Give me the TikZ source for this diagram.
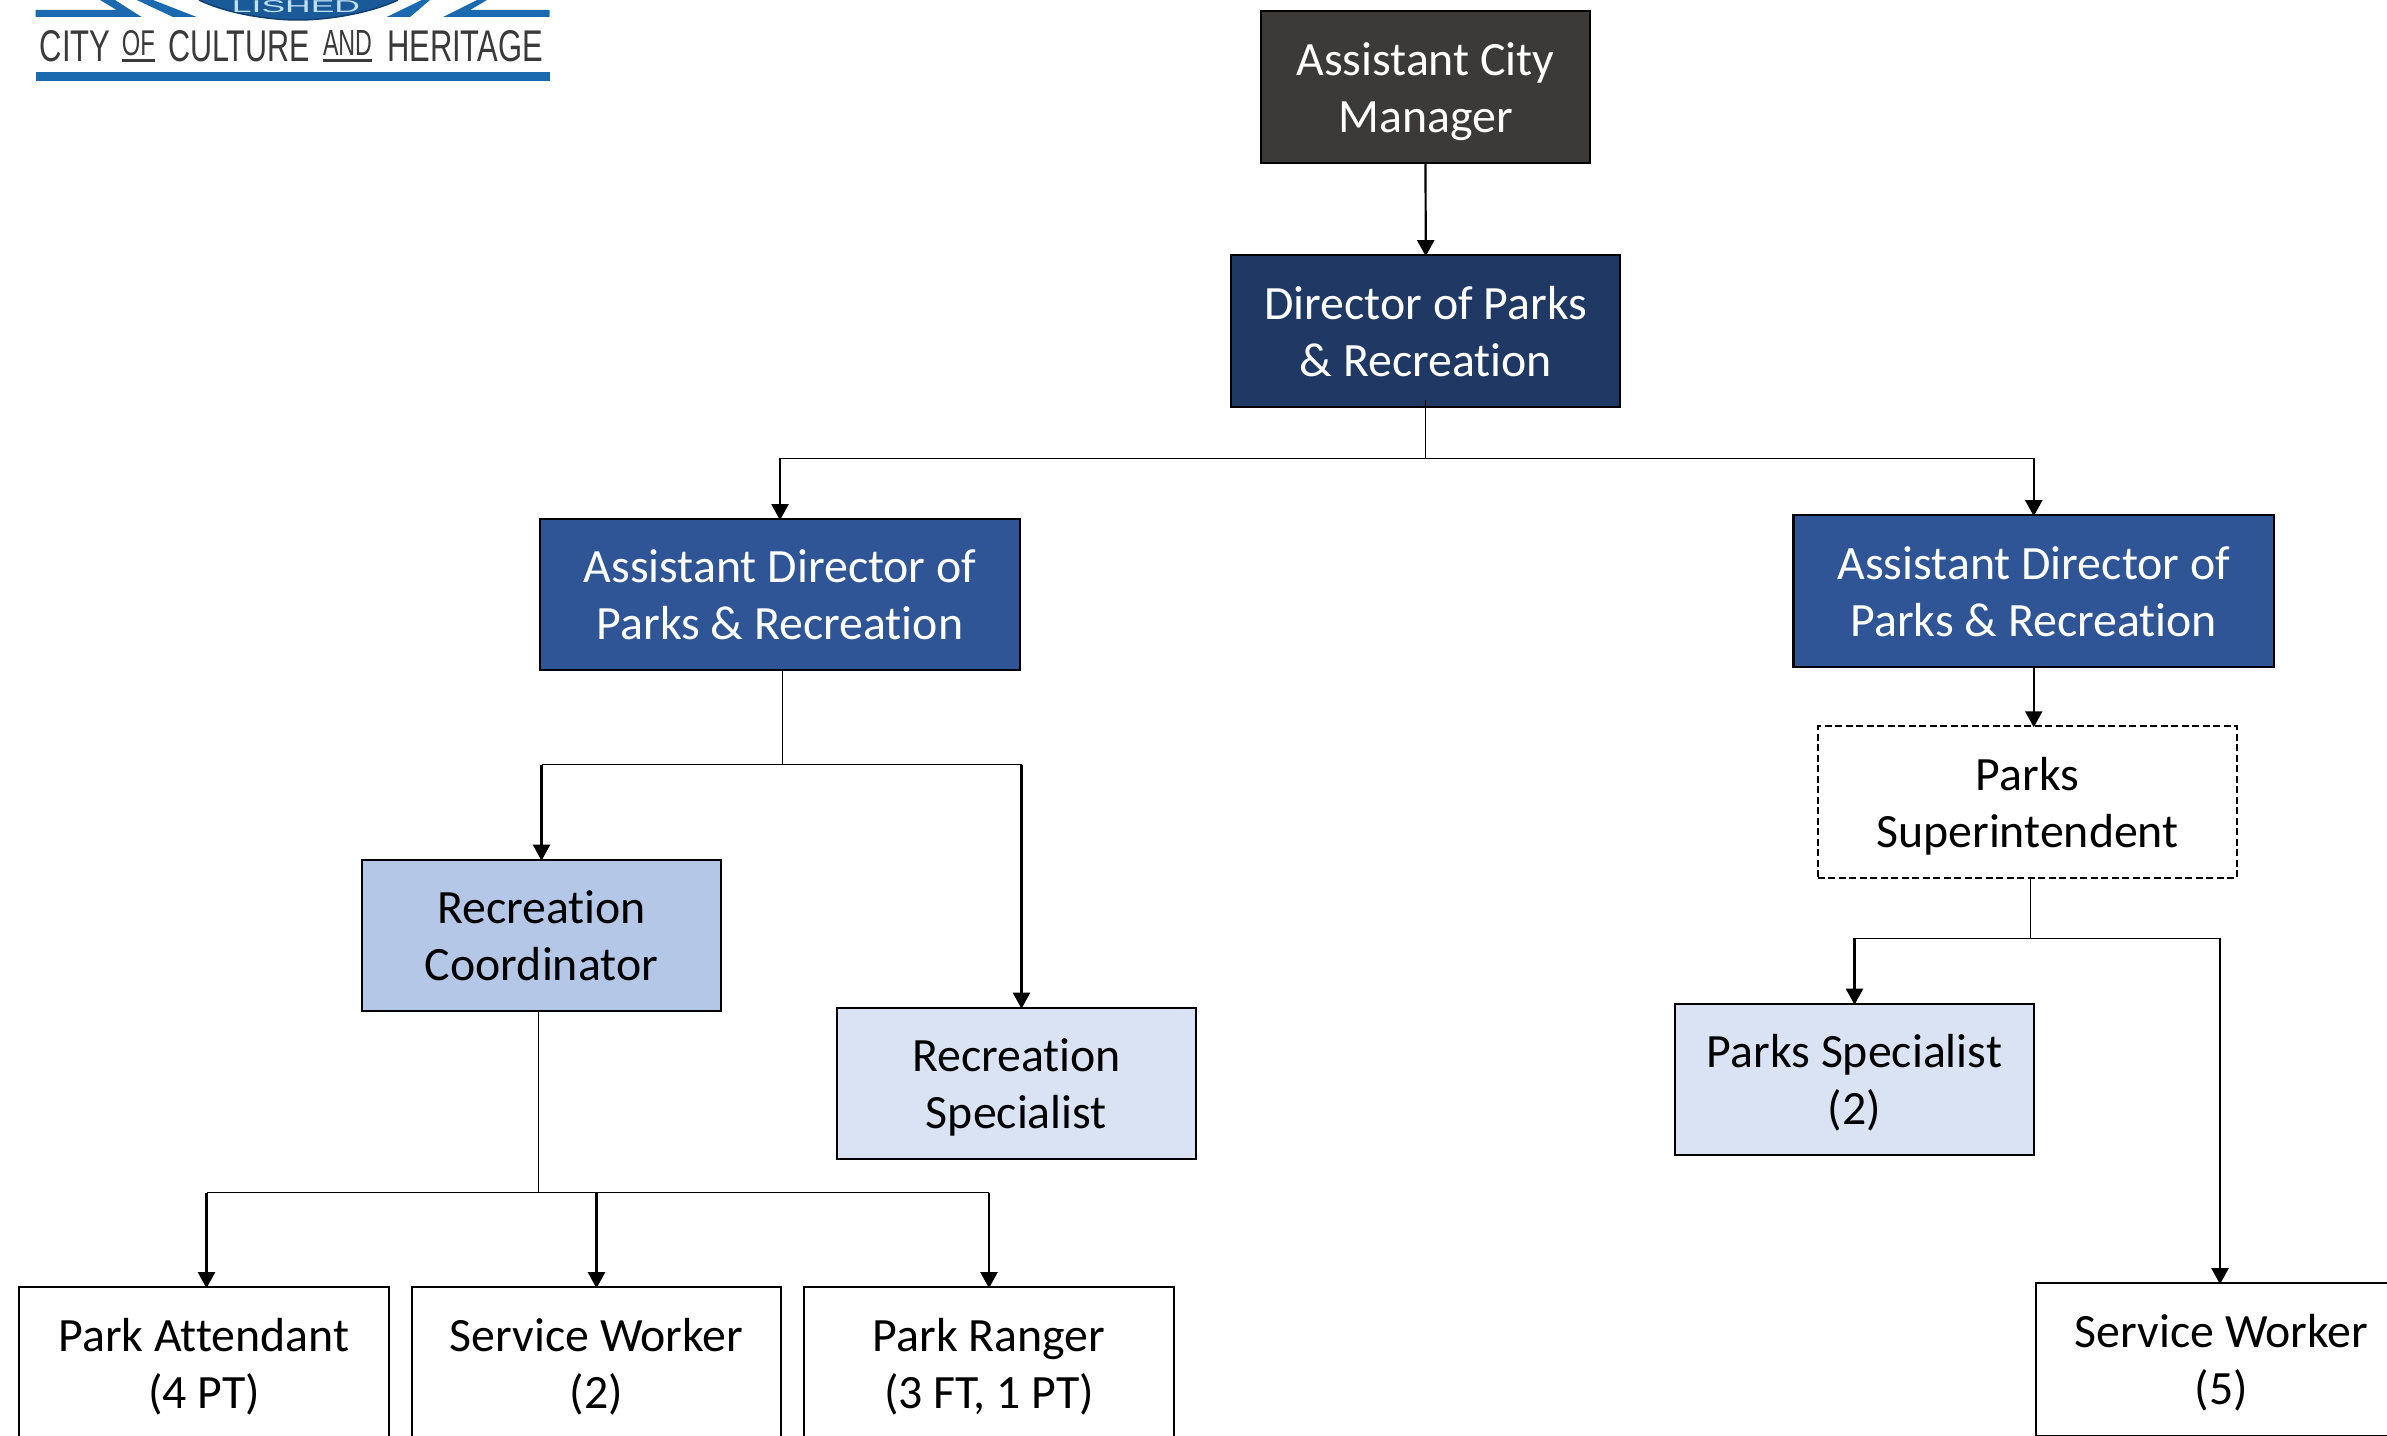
\documentclass[tikz,border=0pt]{standalone}
\usepackage{fontspec}
\usepackage{graphicx}
\setmainfont{Carlito}[Ligatures=CommonOff]
\newfontfamily\logofont{Liberation Sans}
\usetikzlibrary{arrows.meta}
\definecolor{cacm}{HTML}{3B3A38}
\definecolor{cdir}{HTML}{203864}
\definecolor{cad}{HTML}{2F5597}
\definecolor{crc}{HTML}{B4C7E7}
\definecolor{crs}{HTML}{DAE3F3}
\definecolor{logob}{HTML}{1B6AAF}
\definecolor{logod}{HTML}{1A5A98}
\definecolor{logoe}{HTML}{123F73}
\definecolor{logol}{HTML}{BFE0F5}
\definecolor{logot}{HTML}{3A3A3A}
\tikzset{
  x=1bp,y=-1bp,
  orgbox/.style={draw=black,line width=2.2bp,align=center,inner sep=0pt,font=\fontsize{48}{57.3}\selectfont},
  darkbox/.style={orgbox,text=white},
  dashbox/.style={orgbox,line width=2bp,dash pattern=on 7bp off 3.5bp},
  arrowline/.style={draw=black,line width=2.2bp,-{Triangle[width=17bp,length=16bp]},shorten >=-2bp},
  thinline/.style={draw=black,line width=1bp},
  busline/.style={draw=black,line width=1bp},
  logoword/.style={text=logot,inner sep=0pt,font=\logofont},
  logobar/.style={fill=logot},
}
\newcommand{\orgnode}[7]{% style,name,x0,y0,x1,y1,text
  \node[#1,minimum width=#5-#3,minimum height=#6-#4] (#2) at ({(#3+#5)/2},{(#4+#6)/2}) {\rule{0pt}{45bp}#7\rule[-11.7bp]{0pt}{11.7bp}};}
\begin{document}
\begin{tikzpicture}
\useasboundingbox (0,0) rectangle (2387,1436);
\clip (0,0) rectangle (2387,1436);
\fill[white] (0,0) rectangle (2387,1436);
% logo
\fill[logob] (35.5,72) rectangle (549.5,80.7);
\fill[logob] (35.5,10) -- (116.7,10) -- (100,0) -- (115,0) -- (141.7,17) -- (35.5,17) -- cycle;
\fill[logob] (549.5,10) -- (470,10) -- (487,0) -- (477,0) -- (443,17) -- (549.5,17) -- cycle;
\fill[logob] (136.7,0) -- (153,0) -- (196.7,17) -- (173,17) -- cycle;
\fill[logob] (430,0) -- (421.7,0) -- (386.7,17) -- (410,17) -- cycle;
\fill[logod] (199,0) .. controls (228,14) and (270,20) .. (298,20) .. controls (326,20) and (368,14) .. (398,0) -- cycle;
\draw[logoe,line width=1.5bp] (199,0) .. controls (228,14) and (270,20) .. (298,20) .. controls (326,20) and (368,14) .. (398,0);
\node[text=logol,inner sep=0pt,font=\logofont] (logoseal) at (296,6.8) {\resizebox{128bp}{12bp}{LISHED}};
\node[logoword] (logocity) at (75.3,46.5) {\resizebox{70.7bp}{31bp}{CITY}};
\node[logoword] (logoof) at (138.3,43.5) {\resizebox{33bp}{25bp}{OF}};
\node[logoword] (logocult) at (239,46.5) {\resizebox{142bp}{31bp}{CULTURE}};
\node[logoword] (logoand) at (347.5,43.5) {\resizebox{49bp}{25bp}{AND}};
\node[logoword] (logoher) at (465,46.5) {\resizebox{156bp}{31bp}{HERITAGE}};
\fill[logobar] (121.7,59) rectangle (155,62);
\fill[logobar] (323,59) rectangle (372,62);
% boxes
\orgnode{darkbox,fill=cacm}{acm}{1260.5}{11}{1590.5}{163}{Assistant City\\Manager}
\orgnode{darkbox,fill=cdir}{dir}{1230.5}{255}{1621}{407}{Director of Parks\\\& Recreation}
\orgnode{darkbox,fill=cad}{adl}{539}{519}{1021}{670}{Assistant Director of\\Parks \& Recreation}
\orgnode{darkbox,fill=cad}{adr}{1792.5}{515}{2275}{667}{Assistant Director of\\Parks \& Recreation}
\orgnode{dashbox,fill=white}{sup}{1817}{726}{2238}{878}{Parks\\Superintendent}
\orgnode{orgbox,fill=crc}{rc}{361}{859.5}{722}{1011}{Recreation\\Coordinator}
\orgnode{orgbox,fill=crs}{rs}{836}{1007.5}{1197}{1159}{Recreation\\Specialist}
\orgnode{orgbox,fill=crs}{ps}{1674}{1003.5}{2035}{1155}{Parks Specialist\\(2)}
\orgnode{orgbox,fill=white}{sw}{2035}{1283}{2408}{1436}{Service Worker\\(5)}
\orgnode{orgbox,fill=white}{pa}{18}{1287}{390}{1439}{Park Attendant\\(4 PT)}
\orgnode{orgbox,fill=white}{swb}{411}{1287}{782}{1439}{Service Worker\\(2)}
\orgnode{orgbox,fill=white}{pr}{803}{1287}{1175}{1439}{Park Ranger\\(3 FT, 1 PT)}
% junctions
\coordinate (dirs) at (1425.5,400);
\coordinate (dirb) at (1425.5,458);
\coordinate (adls) at (782.5,670);
\coordinate (adlb) at (782.5,764.5);
\coordinate (sups) at (2030.5,878);
\coordinate (supb) at (2030.5,938);
\coordinate (rcs) at (538.5,1011);
\coordinate (rcb) at (538.5,1192.7);
\coordinate (padrop) at (206.5,1192.7);
\coordinate (rsdrop) at (1021.5,764.5);
\coordinate (swdrop) at (2220,938);
% connectors
\draw[arrowline] (acm.south) -- (dir.north);
\draw[arrowline] (adr.south) -- (adr.south |- sup.north);
\draw[thinline] (dirs) -- (dirb);
\draw[thinline] (adls) -- (adlb);
\draw[thinline] (sups) -- (supb);
\draw[thinline] (rcs) -- (rcb);
\draw[busline] (adl.north |- dirb) -- (adr.north |- dirb);
\draw[arrowline] (adl.north |- dirb) -- (adl.north);
\draw[arrowline] (adr.north |- dirb) -- (adr.north);
\draw[busline] (rc.north |- adlb) -- (rsdrop);
\draw[arrowline] (rc.north |- adlb) -- (rc.north);
\draw[arrowline] (rsdrop) -- (rsdrop |- rs.north);
\draw[busline] (ps.north |- supb) -- (swdrop);
\draw[arrowline] (ps.north |- supb) -- (ps.north);
\draw[arrowline] (swdrop) -- (swdrop |- sw.north);
\draw[busline] (padrop) -- (pr.north |- rcb);
\draw[arrowline] (padrop) -- (padrop |- pa.north);
\draw[arrowline] (swb.north |- rcb) -- (swb.north);
\draw[arrowline] (pr.north |- rcb) -- (pr.north);
\end{tikzpicture}
\end{document}
